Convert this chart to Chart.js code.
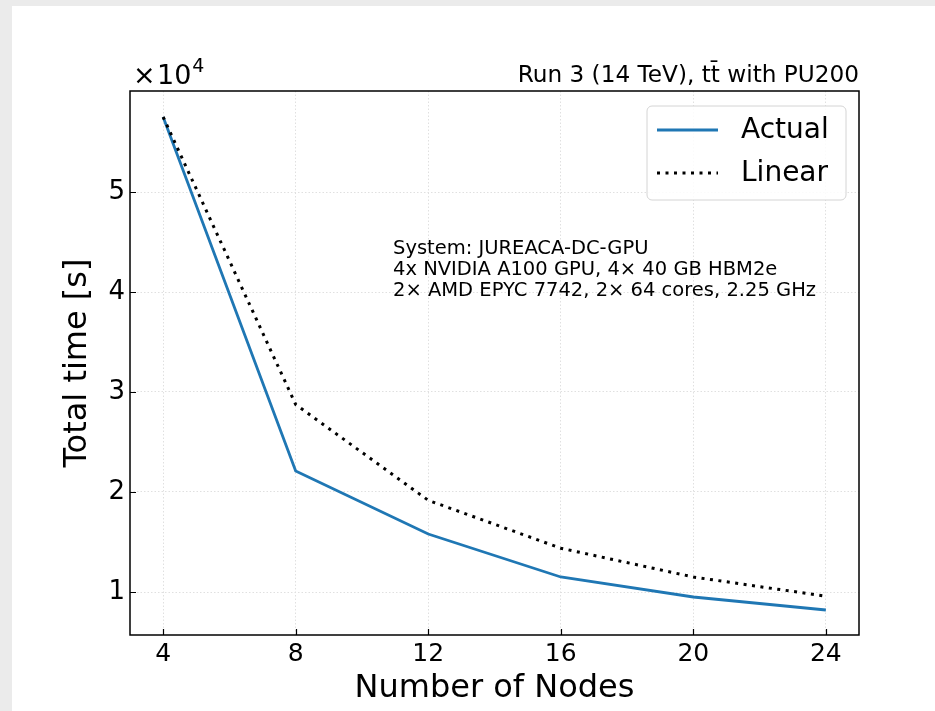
<!DOCTYPE html>
<html>
<head>
<meta charset="utf-8">
<title>Total time vs number of nodes</title>
<script src="https://cdn.jsdelivr.net/npm/chart.js@4.4.0/dist/chart.umd.min.js"></script>
<style>
  html, body { margin: 0; padding: 0; background: #ebebeb; }
  body { width: 935px; height: 711px; overflow: hidden; position: relative; }
  .card { position: absolute; left: 12px; top: 6px; right: 0; bottom: 0; background: #fff; }
  #chart { position: absolute; left: 0; top: 0; }
</style>
</head>
<body>
<div class="card"></div>
<canvas id="chart" width="935" height="711"></canvas>
<script>
// node counts and measured / ideal-scaling total times (seconds)
const nodes = [4, 8, 12, 16, 20, 24];
const actualTime = [57500, 22100, 15800, 11500, 9500, 8200];
const linearTime = [57500, 28750, 19170, 14380, 11500, 9580];

const xTicks = [4, 8, 12, 16, 20, 24];
const yTicks = [10000, 20000, 30000, 40000, 50000];

const headerText = 'Run 3 (14 TeV), tt\u0304 with PU200';
const systemText = [
  'System: JUREACA-DC-GPU',
  '4x NVIDIA A100 GPU, 4\u00d7 40 GB HBM2e',
  '2\u00d7 AMD EPYC 7742, 2\u00d7 64 cores, 2.25 GHz'
];

const FONT = "'DejaVu Sans', sans-serif";

// frame, inward ticks, header / offset text, system box and legend
const decorations = {
  id: 'decorations',
  afterDatasetsDraw(chart) {
    const { ctx, chartArea: a, scales } = chart;
    ctx.save();

    // inward tick marks
    ctx.strokeStyle = '#000';
    ctx.lineWidth = 1.2;
    ctx.beginPath();
    xTicks.forEach(v => {
      const px = Math.round(scales.x.getPixelForValue(v)) + 0.5;
      ctx.moveTo(px, a.bottom);
      ctx.lineTo(px, a.bottom - 6);
    });
    yTicks.forEach(v => {
      const py = Math.round(scales.y.getPixelForValue(v)) + 0.5;
      ctx.moveTo(a.left, py);
      ctx.lineTo(a.left + 6, py);
    });
    ctx.stroke();

    // axes frame
    ctx.lineWidth = 1.5;
    ctx.strokeRect(a.left, a.top, a.right - a.left, a.bottom - a.top);

    ctx.fillStyle = '#000';
    ctx.textBaseline = 'alphabetic';

    // offset text of the y axis
    ctx.textAlign = 'left';
    ctx.font = '27px ' + FONT;
    ctx.fillText('\u00d7', 133, 84);
    ctx.fillText('10', 157, 84);
    const w = ctx.measureText('10').width;
    ctx.font = '19px ' + FONT;
    ctx.fillText('4', 157 + w + 1, 72);

    // header
    ctx.textAlign = 'right';
    ctx.font = '23.2px ' + FONT;
    ctx.fillText(headerText, a.right, 82);

    // system description
    ctx.textAlign = 'left';
    ctx.font = '19.5px ' + FONT;
    systemText.forEach((line, i) => ctx.fillText(line, 393, 254 + i * 21));

    // legend
    const bx = 647, by = 106, bw = 199, bh = 94, r = 5;
    ctx.beginPath();
    ctx.roundRect(bx, by, bw, bh, r);
    ctx.fillStyle = 'rgba(255,255,255,0.85)';
    ctx.fill();
    ctx.strokeStyle = '#d4d4d4';
    ctx.lineWidth = 1;
    ctx.stroke();

    ctx.font = '28px ' + FONT;
    ctx.textBaseline = 'middle';
    chart.data.datasets.forEach((ds, i) => {
      const y = 130 + i * 43;
      ctx.beginPath();
      ctx.setLineDash(ds.borderDash || []);
      ctx.lineCap = ds.borderCapStyle || 'butt';
      ctx.strokeStyle = ds.borderColor;
      ctx.lineWidth = ds.borderWidth;
      ctx.moveTo(657, y);
      ctx.lineTo(718, y);
      ctx.stroke();
      ctx.setLineDash([]);
      ctx.fillStyle = '#000';
      ctx.fillText(ds.label, 741, y + 1);
    });

    ctx.restore();
  }
};

new Chart(document.getElementById('chart'), {
  type: 'line',
  data: {
    datasets: [
      {
        label: 'Actual',
        data: nodes.map((n, i) => ({ x: n, y: actualTime[i] })),
        borderColor: '#1f77b4',
        borderWidth: 2.8,
        pointRadius: 0,
        tension: 0,
        order: 1
      },
      {
        label: 'Linear',
        data: nodes.map((n, i) => ({ x: n, y: linearTime[i] })),
        borderColor: '#000',
        borderWidth: 3,
        borderDash: [3, 5.5],
        borderCapStyle: 'butt',
        pointRadius: 0,
        tension: 0,
        order: 0
      }
    ]
  },
  options: {
    responsive: false,
    animation: false,
    devicePixelRatio: 1,
    layout: { padding: { top: 91, right: 76, left: 0, bottom: 0 } },
    plugins: {
      legend: { display: false },
      tooltip: { enabled: false }
    },
    scales: {
      x: {
        type: 'linear',
        min: 3,
        max: 25,
        afterBuildTicks: s => { s.ticks = xTicks.map(v => ({ value: v })); },
        afterFit: s => { s.height = 76; },
        ticks: { color: '#000', font: { family: FONT, size: 25 }, padding: 4, maxRotation: 0 },
        grid: { color: '#e0e0e0', lineWidth: 1, drawTicks: false },
        border: { display: false, dash: [1.5, 2] },
        title: {
          display: true,
          text: 'Number of Nodes',
          color: '#000',
          font: { family: FONT, size: 32 },
          padding: { top: 0, bottom: 3 }
        }
      },
      y: {
        type: 'linear',
        min: 5700,
        max: 60100,
        afterBuildTicks: s => { s.ticks = yTicks.map(v => ({ value: v })); },
        afterFit: s => { s.width = 130; },
        ticks: {
          color: '#000',
          font: { family: FONT, size: 26 },
          padding: 5,
          callback: v => String(v / 1e4)
        },
        grid: { color: '#e0e0e0', lineWidth: 1, drawTicks: false },
        border: { display: false, dash: [1.5, 2] },
        title: {
          display: true,
          text: 'Total time [s]',
          color: '#000',
          font: { family: FONT, size: 32 },
          padding: { top: 58, bottom: 0 }
        }
      }
    }
  },
  plugins: [decorations]
});
</script>
</body>
</html>
